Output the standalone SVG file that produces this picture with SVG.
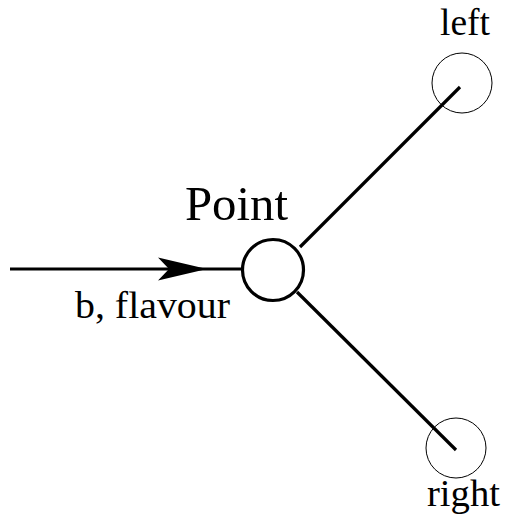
<svg xmlns="http://www.w3.org/2000/svg" width="506" height="518" viewBox="0 0 506 518">
<style>
text{font-family:"Liberation Serif","Times New Roman",Times,Tinos,"DejaVu Serif","Noto Serif",serif;fill:#000}
.thick{stroke:#000;stroke-width:3.2;fill:none}
.thin{stroke:#000;stroke-width:1;fill:none}
</style>
<defs>
<marker id="ah" markerUnits="userSpaceOnUse" markerWidth="52" markerHeight="26" refX="49" refY="13" orient="auto">
<path d="M0,1.5 L49,13 L0,24.5 L11,13 Z" fill="#000"/>
</marker>
</defs>
<rect width="506" height="518" fill="#fff"/>
<g id="connectors">
<line class="thick" x1="10" y1="269" x2="242" y2="269"/>
<line x1="10" y1="269" x2="207" y2="269" stroke="none" marker-end="url(#ah)"/>
<line class="thick" x1="300" y1="247" x2="460" y2="87"/>
<line class="thick" x1="297" y1="292" x2="456" y2="450"/>
</g>
<g id="point">
<circle class="thick" cx="273" cy="270" r="30.5"/>
<text x="185" y="220" font-size="48" textLength="103" lengthAdjust="spacingAndGlyphs">Point</text>
</g>
<g id="left">
<circle class="thin" cx="462" cy="83" r="30"/>
<text x="440" y="35" font-size="37" textLength="50" lengthAdjust="spacingAndGlyphs">left</text>
</g>
<g id="right">
<circle class="thin" cx="456" cy="448" r="30"/>
<text x="427" y="506" font-size="38" textLength="73" lengthAdjust="spacingAndGlyphs">right</text>
</g>
<g id="label">
<text x="75" y="318" font-size="38" textLength="155" lengthAdjust="spacingAndGlyphs">b, flavour</text>
</g>
</svg>
